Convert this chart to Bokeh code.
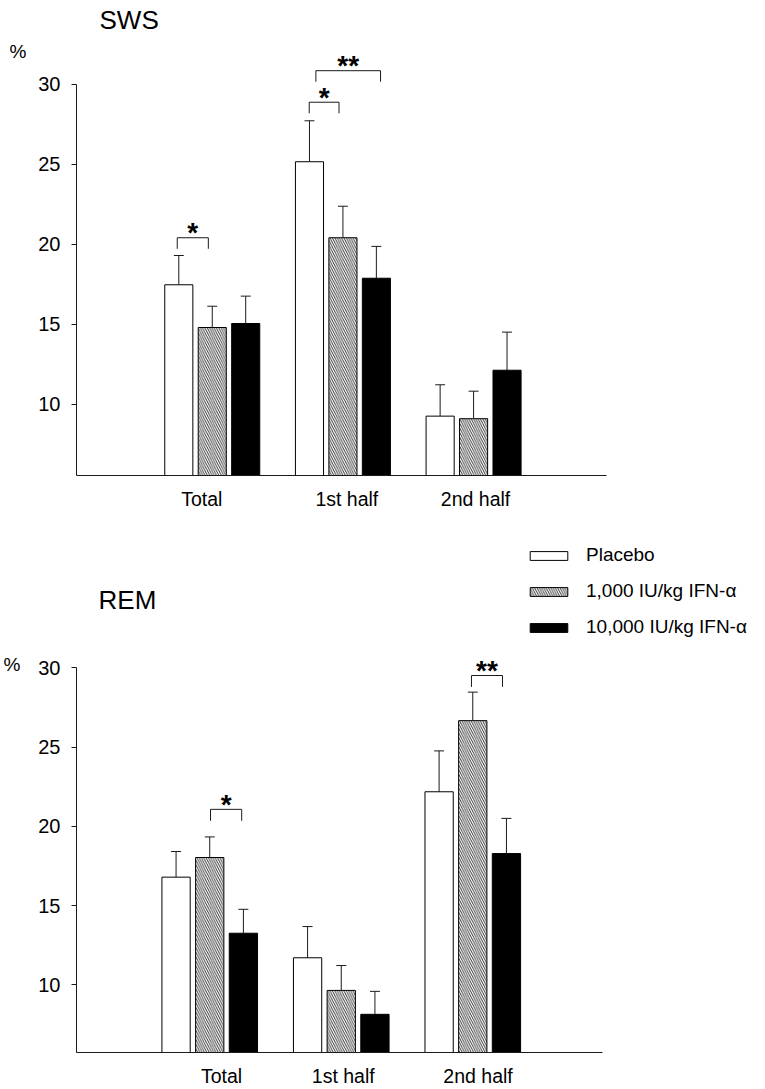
from bokeh.plotting import figure
from bokeh.models import FixedTicker, Legend, LegendItem, Range1d, LinearAxis
from bokeh.layouts import column
from bokeh.embed import file_html
from bokeh.resources import INLINE
from bokeh.core.properties import value

# ---------------- data ----------------
categories = ["Total", "1st half", "2nd half"]
series_names = ["Placebo", "1,000 IU/kg IFN-\u03b1", "10,000 IU/kg IFN-\u03b1"]
y_ticks = [10, 15, 20, 25, 30]

# SWS (% of sleep time), means and SEM
sws_placebo = [17.48, 25.17, 9.27]
sws_placebo_sem = [1.83, 2.56, 1.96]
sws_low = [14.81, 20.42, 9.11]
sws_low_sem = [1.33, 1.97, 1.72]
sws_high = [15.06, 17.89, 12.14]
sws_high_sem = [1.71, 1.99, 2.38]

# REM (% of sleep time), means and SEM
rem_placebo = [16.79, 11.70, 22.18]
rem_placebo_sem = [1.62, 1.97, 2.58]
rem_low = [18.03, 9.64, 26.67]
rem_low_sem = [1.30, 1.57, 1.80]
rem_high = [13.25, 8.13, 18.28]
rem_high_sem = [1.51, 1.45, 2.22]

# significance brackets: start, end (x), top (y), label
sws_br_x0 = [0.732, 1.742, 1.793]
sws_br_x1 = [0.970, 1.970, 2.288]
sws_br_top = [20.42, 28.89, 30.86]
sws_br_label = ["*", "*", "**"]

rem_br_x0 = [1.006, 2.990]
rem_br_x1 = [1.243, 3.226]
rem_br_top = [21.07, 29.52]
rem_br_label = ["*", "**"]

# ---------------- style ----------------
FONT = "Liberation Sans"
LINE = "#1a1a1a"
W = 749
OFFSETS = [-0.256, 0.0, 0.256]
BAR_W = 0.215
CAP = 0.038
FILLS = [dict(fill_color="white"),
         dict(fill_color="white", hatch_pattern="\\", hatch_color="black", hatch_scale=4.6, hatch_weight=0.8),
         dict(fill_color="black")]


def panel(title, means, sems, br_x0, br_x1, br_top, br_label, height, border_left, border_bottom,
          x_start, x_ppu, y_start, y_ppu, axis_x_end, label_pos, title_pos, pct_y, pct_standoff,
          xlabel_standoff, drop, legend=None):
    frame_w = W - border_left
    frame_h = height - border_bottom
    x_end = x_start + frame_w / x_ppu
    y_end = y_start + frame_h / y_ppu
    p = figure(width=W, height=height, output_backend="svg", toolbar_location=None,
               x_range=Range1d(x_start, x_end), y_range=Range1d(y_start, y_end),
               min_border_left=border_left, min_border_right=0, min_border_top=0,
               min_border_bottom=border_bottom)
    p.outline_line_color = None
    p.xgrid.visible = False
    p.ygrid.visible = False
    p.background_fill_color = "white"

    renderers = []
    for i in range(3):
        xs = [g + 1 + OFFSETS[i] for g in range(3)]
        r = p.vbar(x=xs, top=means[i], bottom=0, width=BAR_W, line_color="black", line_width=1, **FILLS[i])
        renderers.append(r)
        ups = [m + s for m, s in zip(means[i], sems[i])]
        p.segment(x0=xs, y0=means[i], x1=xs, y1=ups, line_color=LINE, line_width=1)
        p.segment(x0=[x - CAP for x in xs], y0=ups, x1=[x + CAP for x in xs], y1=ups,
                  line_color=LINE, line_width=1)

    # brackets
    bx = [[a, a, b, b] for a, b in zip(br_x0, br_x1)]
    by = [[t - drop, t, t, t - drop] for t in br_top]
    p.multi_line(xs=bx, ys=by, line_color=LINE, line_width=1)
    p.text(x=[(a + b) / 2 for a, b in zip(br_x0, br_x1)], y=br_top, text=br_label,
           text_font=value(FONT), text_font_size="28px", text_font_style="bold",
           text_align="center", text_baseline="alphabetic", y_offset=-5, text_color="black")

    # title
    p.text(x=[title_pos[0]], y=[title_pos[1]], text=[title], text_font=value(FONT),
           text_font_size="26px", text_align="left", text_baseline="middle", text_color="black")

    # axes
    ya = p.yaxis[0]
    ya.ticker = FixedTicker(ticks=y_ticks)
    ya.bounds = (y_start, 30)
    ya.axis_line_color = LINE
    ya.major_tick_line_color = LINE
    ya.major_tick_out = 5
    ya.major_tick_in = 0
    ya.minor_tick_out = 0
    ya.minor_tick_in = 0
    ya.major_label_standoff = 11
    ya.major_label_text_font = FONT
    ya.major_label_text_font_size = "20px"
    ya.major_label_text_color = "black"

    # unit label "%" as an outer axis label
    pa = LinearAxis(ticker=FixedTicker(ticks=[pct_y]), major_label_overrides={pct_y: "%"},
                    axis_line_color=None, major_tick_out=0, major_tick_in=0, minor_tick_out=0,
                    minor_tick_in=0, major_label_standoff=pct_standoff, major_label_text_font=FONT,
                    major_label_text_font_size="19px", major_label_text_color="black")
    p.add_layout(pa, "left")

    xa = p.xaxis[0]
    xa.ticker = FixedTicker(ticks=label_pos)
    xa.major_label_overrides = {pos: c for pos, c in zip(label_pos, categories)}
    xa.bounds = (x_start, axis_x_end)
    xa.axis_line_color = LINE
    xa.major_tick_out = 0
    xa.major_tick_in = 0
    xa.minor_tick_out = 0
    xa.minor_tick_in = 0
    xa.major_label_standoff = xlabel_standoff
    xa.major_label_text_font = FONT
    xa.major_label_text_font_size = "19.5px"
    xa.major_label_text_color = "black"

    if legend:
        lg = Legend(items=[LegendItem(label=n, renderers=[r]) for n, r in zip(series_names, renderers)],
                    location=legend["loc"], orientation="vertical", glyph_width=47, glyph_height=11,
                    label_height=11, label_standoff=14, spacing=legend["spacing"], padding=0, margin=0,
                    border_line_color=None, background_fill_alpha=0,
                    label_text_font=FONT, label_text_font_size="19px", label_text_color="black")
        p.add_layout(lg)
    return p


top = panel("SWS", [sws_placebo, sws_low, sws_high], [sws_placebo_sem, sws_low_sem, sws_high_sem],
            sws_br_x0, sws_br_x1, sws_br_top, sws_br_label,
            height=523, border_left=65, border_bottom=48,
            x_start=-0.039, x_ppu=132.8, y_start=5.56, y_ppu=16.0, axis_x_end=4.017,
            label_pos=[0.92, 2.03, 3.015], title_pos=(0.137, 34.03), pct_y=32.09, pct_standoff=9,
            xlabel_standoff=12, drop=0.69)

bottom = panel("REM", [rem_placebo, rem_low, rem_high], [rem_placebo_sem, rem_low_sem, rem_high_sem],
               rem_br_x0, rem_br_x1, rem_br_top, rem_br_label,
               height=566, border_left=71, border_bottom=35,
               x_start=-0.013, x_ppu=132.5, y_start=5.72, y_ppu=15.9, axis_x_end=3.99,
               label_pos=[1.09, 2.015, 3.04], title_pos=(0.155, 34.28), pct_y=30.19, pct_standoff=15,
               xlabel_standoff=12, drop=0.72,
               legend=dict(loc=(449, 414), spacing=14))

layout = column(top, bottom, spacing=0)
open("out.html", "w").write(file_html(layout, INLINE))
